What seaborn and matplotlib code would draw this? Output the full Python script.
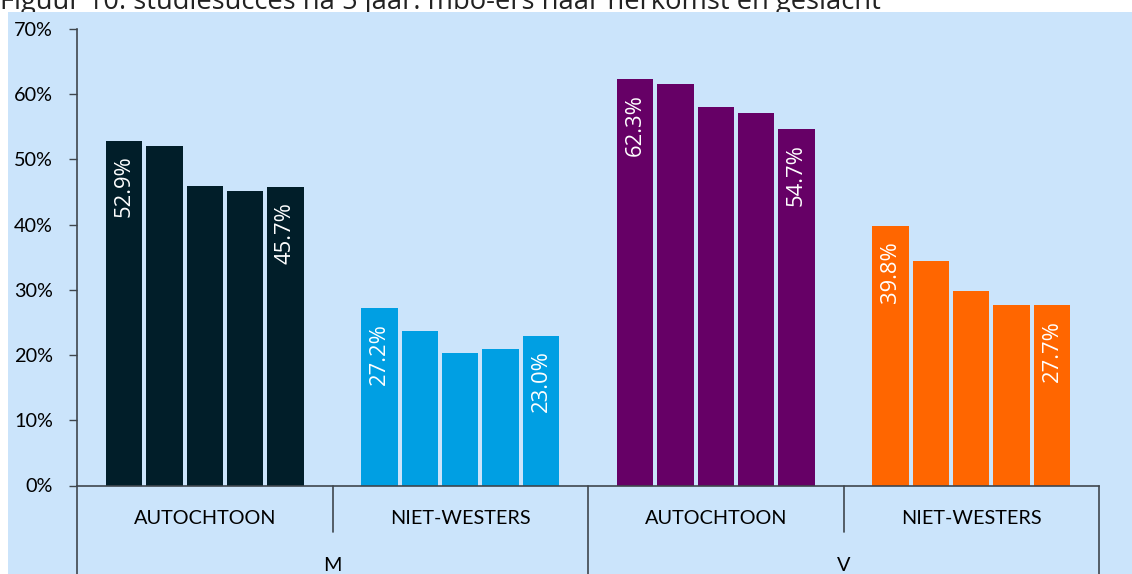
import numpy as np
import pandas as pd
import matplotlib
matplotlib.use("Agg")
import matplotlib.pyplot as plt
import seaborn as sns
from matplotlib.patches import Rectangle
from matplotlib.ticker import FuncFormatter

# Gegevens
groepen = ["M AUTOCHTOON", "M NIET-WESTERS", "V AUTOCHTOON", "V NIET-WESTERS"]
herkomst_labels = ["AUTOCHTOON", "NIET-WESTERS", "AUTOCHTOON", "NIET-WESTERS"]
geslacht_labels = ["M", "V"]
cohorten = ["cohort 1", "cohort 2", "cohort 3", "cohort 4", "cohort 5"]

m_autochtoon = [52.9, 52.0, 45.9, 45.1, 45.7]
m_niet_westers = [27.2, 23.7, 20.3, 20.9, 23.0]
v_autochtoon = [62.3, 61.5, 58.0, 57.1, 54.7]
v_niet_westers = [39.8, 34.4, 29.8, 27.7, 27.7]

titel = "Figuur 10: studiesucces na 5 jaar: mbo-ers naar herkomst en geslacht"

kleuren = ["#011E29", "#009FE3", "#660066", "#FF6600"]
achtergrond = "#CBE4FB"
lijnkleur = "#3F464D"

W, H = 1132, 574

# tabel in lang formaat voor seaborn
reeksen = [m_autochtoon, m_niet_westers, v_autochtoon, v_niet_westers]
rows = []
for g, vals in zip(groepen, reeksen):
    for c, v in zip(cohorten, vals):
        rows.append({"groep": g, "cohort": c, "waarde": v})
df = pd.DataFrame(rows)

sns.set_style("white")
plt.rcParams["font.family"] = ["Lato", "DejaVu Sans"]

fig = plt.figure(figsize=(W / 100, H / 100), dpi=100)
fig.patch.set_facecolor("white")
fig.patches.append(Rectangle((8 / W, 0), 1, 1 - 12 / H, transform=fig.transFigure,
                             facecolor=achtergrond, edgecolor="none", zorder=-1))

ax = fig.add_axes([77 / W, (H - 485.5) / H, (1099 - 77) / W, (485.5 - 29) / H])
ax.set_facecolor("none")

sns.barplot(data=df, x="groep", y="waarde", hue="cohort", order=groepen,
            hue_order=cohorten, width=0.79, gap=0.1, palette=["#000000"] * 5,
            legend=False, errorbar=None, saturation=1, ax=ax)

# kleur per groep
for cont in ax.containers:
    for i, bar in enumerate(cont):
        bar.set_facecolor(kleuren[i])
        bar.set_edgecolor("none")

# labels voor eerste en laatste cohort
for idx in [0, len(cohorten) - 1]:
    cont = ax.containers[idx]
    for i, bar in enumerate(cont):
        v = reeksen[i][idx]
        ax.annotate(f"{v:.1f}%", xy=(bar.get_x() + bar.get_width() / 2, bar.get_height()),
                    xytext=(0, -15 * 0.72), textcoords="offset points",
                    rotation=90, ha="center", va="top", color="white",
                    fontsize=15.8, family=["Open Sans", "DejaVu Sans"])

ax.set_xlim(-0.5, 3.5)
ax.set_ylim(0, 70)
ax.set_yticks(np.arange(0, 71, 10))
ax.yaxis.set_major_formatter(FuncFormatter(lambda y, p: f"{int(y)}%"))
ax.tick_params(axis="y", direction="out", length=5.8, width=1, color=lijnkleur,
               pad=11.5, labelsize=14.3, labelcolor="black", left=True)
ax.set_xticks([])
ax.set_xlabel("")
ax.set_ylabel("")
for s in ["top", "right"]:
    ax.spines[s].set_visible(False)
for s in ["left", "bottom"]:
    ax.spines[s].set_color(lijnkleur)
    ax.spines[s].set_linewidth(1.2)

# categorie-as met twee niveaus
ax_h = 485.5 - 29
trans = ax.get_xaxis_transform()
kort = -46.5 / ax_h
lang = -90 / ax_h
for x in [0.5, 2.5]:
    ax.plot([x, x], [0, kort], transform=trans, color=lijnkleur, lw=1.2, clip_on=False)
for x in [-0.5, 1.5, 3.5]:
    ax.plot([x, x], [0, lang], transform=trans, color=lijnkleur, lw=1.2, clip_on=False)
for i, lab in enumerate(herkomst_labels):
    ax.text(i, -38.5 / ax_h, lab, transform=trans, ha="center", va="baseline",
            fontsize=14.3, color="black")
for j, lab in enumerate(geslacht_labels):
    ax.text(0.5 + 2 * j, -85.5 / ax_h, lab, transform=trans, ha="center", va="baseline",
            fontsize=14.3, color="black")

# titel, bovenkant valt buiten beeld (zoals in het origineel)
t = fig.text(0.0, 1 - 9 / H, titel, ha="left", va="baseline", fontsize=15,
             color="#222222", zorder=-2, family=["Open Sans", "DejaVu Sans"])
r = fig.canvas.get_renderer()
w = t.get_window_extent(r).width
t.set_fontsize(15 * 880 / w)

fig.savefig("out.png", dpi=100)
